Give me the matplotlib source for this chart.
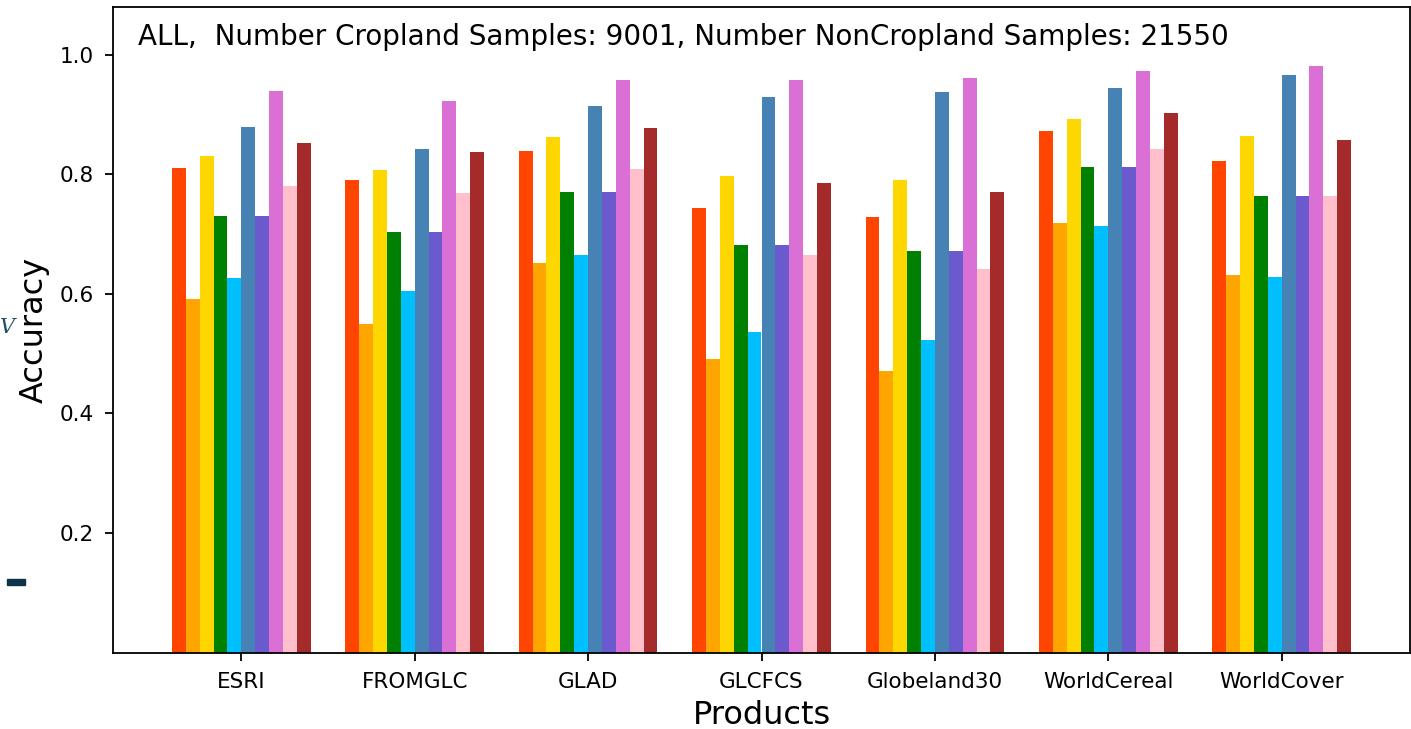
import numpy as np
import matplotlib
matplotlib.use('Agg')
import matplotlib.pyplot as plt

products = ['ESRI', 'FROMGLC', 'GLAD', 'GLCFCS', 'Globeland30', 'WorldCereal', 'WorldCover']

# one list per metric (10 bars per product)
m1 = [0.810, 0.791, 0.839, 0.743, 0.729, 0.872, 0.822]
m2 = [0.591, 0.550, 0.652, 0.491, 0.471, 0.719, 0.631]
m3 = [0.830, 0.807, 0.862, 0.798, 0.790, 0.893, 0.864]
m4 = [0.731, 0.704, 0.771, 0.681, 0.672, 0.813, 0.763]
m5 = [0.626, 0.604, 0.665, 0.537, 0.523, 0.714, 0.629]
m6 = [0.879, 0.843, 0.915, 0.930, 0.938, 0.944, 0.967]
m7 = [0.731, 0.704, 0.771, 0.681, 0.672, 0.813, 0.763]
m8 = [0.939, 0.922, 0.958, 0.958, 0.961, 0.973, 0.982]
m9 = [0.780, 0.769, 0.809, 0.665, 0.642, 0.843, 0.763]
m10 = [0.852, 0.838, 0.877, 0.786, 0.770, 0.903, 0.858]

metrics = [m1, m2, m3, m4, m5, m6, m7, m8, m9, m10]
colors = ['orangered', 'orange', 'gold', 'green', 'deepskyblue',
          'steelblue', 'slateblue', 'orchid', 'pink', 'brown']

fig = plt.figure(figsize=(14.11, 7.29), dpi=100)
ax = fig.add_axes([113 / 1411, 1 - 652.5 / 729, (1410 - 113) / 1411, (652.5 - 7) / 729])

x = np.arange(len(products))
w = 0.08
for i, (vals, c) in enumerate(zip(metrics, colors)):
    ax.bar(x + (i - 4.5) * w, vals, width=w, color=c)

ax.set_xticks(x)
ax.set_xticklabels(products)
ax.set_yticks([0.2, 0.4, 0.6, 0.8, 1.0])
ax.tick_params(labelsize=15.5, length=6, width=1.3, pad=8)
for sp in ax.spines.values():
    sp.set_linewidth(1.3)
ax.set_ylim(0, 1.08)
ax.set_xlabel('Products', fontsize=23, labelpad=6)
ax.set_ylabel('Accuracy', fontsize=23, labelpad=7)

ax.text(0.019, 0.975, 'ALL,  Number Cropland Samples: 9001, Number NonCropland Samples: 21550',
        transform=ax.transAxes, ha='left', va='top', fontsize=20)

# bits of the slide behind the screenshot
fig.text(0.0, 1 - 333 / 729, 'V', fontsize=15, style='italic', family='DejaVu Serif',
         color='#1f4e66', ha='left', va='baseline')
fig.patches.append(plt.Rectangle((7 / 1411, 1 - 585 / 729), 18 / 1411, 6 / 729,
                                 transform=fig.transFigure, color='#0d3349'))

plt.savefig('out.png', dpi=100)
